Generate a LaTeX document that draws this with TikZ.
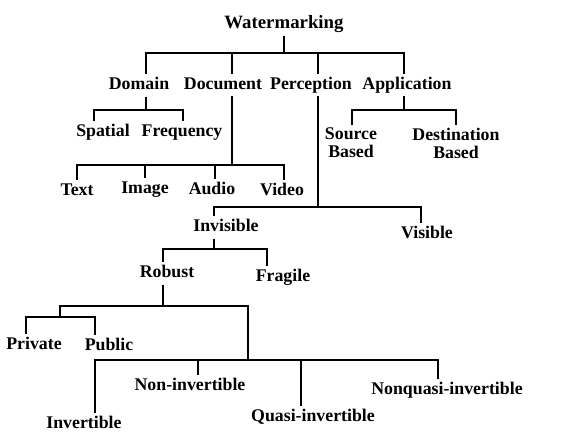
\documentclass[tikz,border=0pt]{standalone}
\usepackage{fontspec}
\setmainfont{Liberation Serif}

\begin{document}
\begin{tikzpicture}[
      x=1pt, y=-1pt,
      box/.style={font=\bfseries\fontsize{17.8}{18}\selectfont, inner sep=0pt},
      lbl/.style={box, anchor=base, text height=12pt, text depth=4pt},
      lbl2/.style={box, anchor=north, align=center},
      edge/.style={line width=2pt, shorten <=3pt, shorten >=3pt}
    ]
    \fill[white] (0,0) rectangle (574,432);
    \useasboundingbox (0,0) rectangle (574,432);

    \node[lbl, font=\bfseries\fontsize{18.8}{19}\selectfont] (wm) at (284,28.5) {Watermarking};
    \node[lbl] (dom) at (139,89.5) {Domain};
    \node[lbl] (doc) at (223,89) {Document};
    \node[lbl] (per) at (311,89) {Perception};
    \node[lbl] (app) at (407,89) {Application};
    \node[lbl] (spa) at (103,136.5) {Spatial};
    \node[lbl] (fre) at (182,136.5) {Frequency};
    \node[lbl2] (src) at (351,127.5) {Source\\Based};
    \node[lbl2] (dst) at (456,127.5) {Destination\\Based};
    \node[lbl] (txt) at (77,195.5) {Text};
    \node[lbl] (img) at (145,193.5) {Image};
    \node[lbl] (aud) at (212,194.5) {Audio};
    \node[lbl] (vid) at (282,195.5) {Video};
    \node[lbl] (inv) at (226,231.5) {Invisible};
    \node[lbl] (vis) at (427,238.5) {Visible};
    \node[lbl] (rob) at (167,277.5) {Robust};
    \node[lbl] (fra) at (283,281.5) {Fragile};
    \node[lbl] (pri) at (34,349.5) {Private};
    \node[lbl] (pub) at (109,350.5) {Public};
    \node[lbl] (nin) at (190,390.5) {Non-invertible};
    \node[lbl] (ivt) at (84,428.5) {Invertible};
    \node[lbl] (qua) at (313,421.5) {Quasi-invertible};
    \node[lbl] (nqi) at (447,394.5) {Nonquasi-invertible};
    \coordinate (keys) at (60,317);
    \coordinate (inver) at (248,360);

    % top level
    \draw[edge] (wm.south) -- ++(0,20.5) -| ([xshift=7pt]dom.north);
    \draw[edge] (wm.south) -- ++(0,20.5) -| ([xshift=9pt]doc.north);
    \draw[edge] (wm.south) -- ++(0,20.5) -| ([xshift=7pt]per.north);
    \draw[edge] (wm.south) -- ++(0,20.5) -| ([xshift=-3pt]app.north);

    \draw[edge] ([xshift=7pt]dom.south) -- ++(0,16.5) -| ([xshift=-9pt]spa.north);
    \draw[edge] ([xshift=7pt]dom.south) -- ++(0,16.5) -| ([xshift=1pt]fre.north);

    \draw[edge] ([xshift=9pt]doc.south) -- ++(0,72) -| (txt.north);
    \draw[edge] ([xshift=9pt]doc.south) -- ++(0,72) -| (img.north);
    \draw[edge] ([xshift=9pt]doc.south) -- ++(0,72) -| ([xshift=3pt]aud.north);
    \draw[edge] ([xshift=9pt]doc.south) -- ++(0,72) -| ([xshift=2pt]vid.north);

    \draw[edge] ([xshift=7pt]per.south) -- ++(0,114) -| ([xshift=-12pt]inv.north);
    \draw[edge] ([xshift=7pt]per.south) -- ++(0,114) -| ([xshift=-6pt]vis.north);

    \draw[edge] ([xshift=-3pt]app.south) -- ++(0,17) -| ([xshift=1pt]src.north);
    \draw[edge] ([xshift=-3pt]app.south) -- ++(0,17) -| (dst.north);

    % invisible branch
    \draw[edge] ([xshift=-12pt]inv.south) -- ++(0,13.5) -| ([xshift=-4pt]rob.north);
    \draw[edge] ([xshift=-12pt]inv.south) -- ++(0,13.5) -| ([xshift=-16pt]fra.north);

    \draw[edge, shorten >=0pt] ([xshift=-4pt]rob.south) -- ++(0,24.5) -| (keys);
    \draw[edge, shorten >=0pt] ([xshift=-4pt]rob.south) -- ++(0,24.5) -| (inver);

    \draw[edge, shorten <=0pt] (keys) -| ([xshift=-8pt]pri.north);
    \draw[edge, shorten <=0pt] (keys) -| ([xshift=-14pt]pub.north);

    \draw[edge, shorten <=0pt] (inver) -| ([xshift=11pt]ivt.north);
    \draw[edge, shorten <=0pt] (inver) -| ([xshift=8pt]nin.north);
    \draw[edge, shorten <=0pt] (inver) -| ([xshift=-12pt]qua.north);
    \draw[edge, shorten <=0pt] (inver) -| ([xshift=-9pt]nqi.north);
  \end{tikzpicture}
\end{document}
